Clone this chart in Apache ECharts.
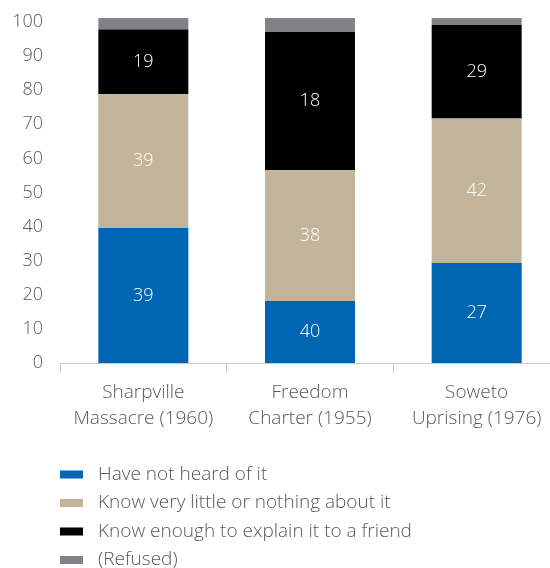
<!DOCTYPE html>
<html>
<head>
<meta charset="utf-8">
<script src="https://cdn.jsdelivr.net/npm/echarts@6/dist/echarts.min.js"></script>
<style>html,body{margin:0;padding:0;background:#fff;overflow:hidden}#c{width:560px;height:568px}</style>
</head>
<body>
<div id="c"></div>
<script>
const categories = ['Sharpville\nMassacre (1960)', 'Freedom\nCharter (1955)', 'Soweto\nUprising (1976)'];
const seriesNames = ['Have not heard of it', 'Know very little or nothing about it', 'Know enough to explain it to a friend', '(Refused)'];
// bar segment heights as drawn
const notHeard = [39.6, 18.2, 29.3];
const knowLittle = [39.3, 38.4, 42.5];
const knowEnough = [19.0, 40.5, 27.3];
const refused = [3.3, 4.1, 2.1];
// labels printed on the segments
const notHeardLabels = [39, 40, 27];
const knowLittleLabels = [39, 38, 42];
const knowEnoughLabels = [19, 18, 29];
const yTicks = [0, 10, 20, 30, 40, 50, 60, 70, 80, 90, 100];

const colors = ['#0066b3', '#c3b59b', '#000000', '#808285'];
const FONT = 'Open Sans';
const FW = 300;
const TXT = '#595959';
const values = [notHeard, knowLittle, knowEnough, refused];
const labels = [notHeardLabels, knowLittleLabels, knowEnoughLabels, null];

const series = values.map((v, i) => ({
  name: seriesNames[i],
  type: 'bar',
  stack: 'total',
  barWidth: 90,
  clip: false,
  data: v,
  itemStyle: { color: colors[i] },
  label: labels[i] ? {
    show: true,
    position: 'inside',
    color: '#ffffff',
    fontSize: 18,
    fontFamily: FONT,
    fontWeight: FW,
    formatter: p => String(labels[i][p.dataIndex])
  } : { show: false }
}));

const chart = echarts.init(document.getElementById('c'), null, { renderer: 'canvas' });
chart.setOption({
  animation: false,
  color: colors,
  grid: { left: 60, right: 0, top: 22, bottom: 205, containLabel: false },
  legend: {
    orient: 'vertical',
    left: 60,
    top: 465,
    height: 110,
    padding: 0,
    itemWidth: 23,
    itemHeight: 8,
    itemGap: 9.5,
    icon: 'rect',
    textStyle: { fontSize: 19, color: TXT, fontFamily: FONT, fontWeight: FW, padding: [0, 0, 0, 10], lineHeight: 16 },
    data: seriesNames
  },
  xAxis: {
    type: 'category',
    data: categories,
    axisLine: { lineStyle: { color: '#c8c8c8', width: 1 } },
    axisTick: { show: true, interval: 0, length: 10, lineStyle: { color: '#c8c8c8' } },
    axisLabel: { interval: 0, color: TXT, fontSize: 19, fontFamily: FONT, fontWeight: FW, lineHeight: 26, margin: 17 }
  },
  yAxis: {
    type: 'value',
    min: yTicks[0],
    max: yTicks[yTicks.length - 1],
    interval: 10,
    axisLine: { show: false },
    axisTick: { show: false },
    splitLine: { show: false },
    axisLabel: { color: TXT, fontSize: 18, fontFamily: FONT, fontWeight: FW, margin: 17 }
  },
  series: series
});
</script>
</body>
</html>
